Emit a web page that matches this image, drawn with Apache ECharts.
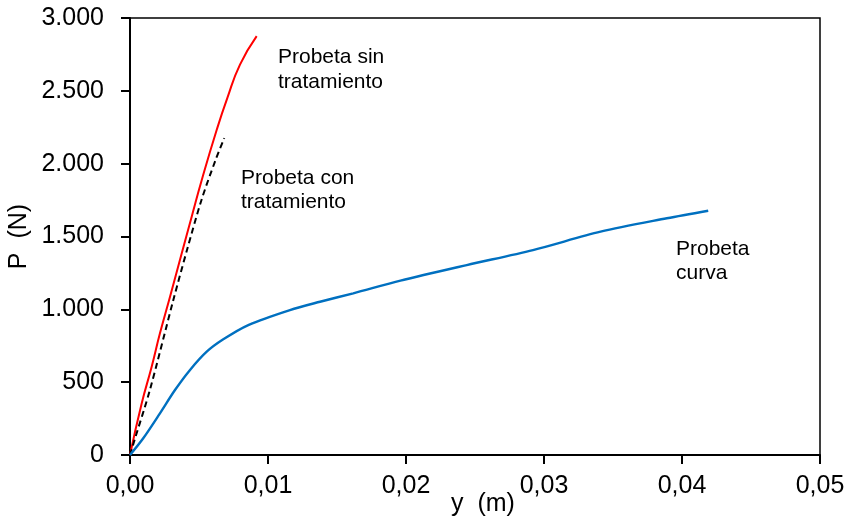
<!DOCTYPE html>
<html>
<head>
<meta charset="utf-8">
<script src="https://cdn.jsdelivr.net/npm/echarts@6/dist/echarts.min.js"></script>
<style>
  html, body { margin: 0; padding: 0; background: #fff; }
  #chart { width: 847px; height: 527px; }
</style>
</head>
<body>
<div id="chart"></div>
<script>
// desplazamiento y (m), carga P (N)
const sinTratamiento = [
  [0, 0], [0.00085, 355], [0.00157, 606], [0.00217, 835], [0.0029, 1087],
  [0.00375, 1385], [0.00447, 1636], [0.0052, 1888], [0.00628, 2231],
  [0.00705, 2450], [0.00797, 2680], [0.00918, 2876]
]
const conTratamiento = [
  [0, 0], [0.00033, 103], [0.00144, 446], [0.00314, 1064], [0.00413, 1407],
  [0.00518, 1751], [0.0062, 2025], [0.00683, 2176]
]
const curva = [
  [0, 0], [0.00096, 115], [0.00217, 286], [0.00326, 446], [0.00435, 584],
  [0.00556, 709], [0.00676, 794], [0.00857, 892], [0.01159, 995],
  [0.01377, 1052], [0.01618, 1110], [0.0196, 1197], [0.0244, 1304],
  [0.0292, 1407], [0.0341, 1533], [0.0389, 1625], [0.0419, 1677]
]
const xTicks = { min: 0, max: 0.05, interval: 0.01 }
const yTicks = { min: 0, max: 3000, interval: 500 }

const font = 'Liberation Sans, Arial, sans-serif'

const chart = echarts.init(document.getElementById('chart'))

const option = {
  animation: false,
  grid: {
    left: 130, right: 27, top: 18, bottom: 72,
    outerBoundsMode: 'none',
    containLabel: false,
    show: true, borderColor: '#000', borderWidth: 1.5
  },
  xAxis: {
    type: 'value',
    min: xTicks.min, max: xTicks.max, interval: xTicks.interval,
    name: 'y  (m)',
    nameLocation: 'middle',
    nameGap: 37,
    nameMoveOverlap: false,
    nameTextStyle: { color: '#000', fontSize: 25, fontFamily: font, padding: [0, 0, 0, 16] },
    axisLine: { lineStyle: { color: '#000', width: 2 } },
    axisTick: { inside: false, length: 9, lineStyle: { color: '#000', width: 2 } },
    axisLabel: {
      color: '#000', fontSize: 25, fontFamily: font, margin: 19,
      formatter: v => v.toFixed(2).replace('.', ',')
    },
    splitLine: { show: false }
  },
  yAxis: {
    type: 'value',
    min: yTicks.min, max: yTicks.max, interval: yTicks.interval,
    name: 'P  (N)',
    nameLocation: 'middle',
    nameGap: 98,
    nameMoveOverlap: false,
    nameRotate: 90,
    nameTextStyle: { color: '#000', fontSize: 25, fontFamily: font },
    axisLine: { show: true, lineStyle: { color: '#000', width: 2 } },
    axisTick: { show: true, inside: false, length: 9, lineStyle: { color: '#000', width: 2 } },
    axisLabel: {
      color: '#000', fontSize: 25, fontFamily: font, margin: 26,
      formatter: v => String(v).replace(/\B(?=(\d{3})+(?!\d))/g, '.')
    },
    splitLine: { show: false }
  },
  series: [
    {
      name: 'Probeta sin tratamiento',
      type: 'line',
      data: sinTratamiento,
      smooth: 0.5,
      showSymbol: false,
      lineStyle: { color: '#ff0000', width: 2 }
    },
    {
      name: 'Probeta con tratamiento',
      type: 'line',
      data: conTratamiento,
      smooth: 0.3,
      showSymbol: false,
      lineStyle: { color: '#000', width: 2, type: [6, 4] }
    },
    {
      name: 'Probeta curva',
      type: 'line',
      data: curva,
      smooth: 0.3,
      showSymbol: false,
      lineStyle: { color: '#0070c0', width: 2.4 }
    }
  ],
  graphic: [
    {
      type: 'text', left: 278, top: 45,
      style: { text: 'Probeta sin\ntratamiento', fontSize: 21, lineHeight: 25, fontFamily: font, fill: '#000' }
    },
    {
      type: 'text', left: 241, top: 166,
      style: { text: 'Probeta con\ntratamiento', fontSize: 21, lineHeight: 24, fontFamily: font, fill: '#000' }
    },
    {
      type: 'text', left: 676, top: 237,
      style: { text: 'Probeta\ncurva', fontSize: 21, lineHeight: 24, fontFamily: font, fill: '#000' }
    }
  ]
}

chart.setOption(option)
</script>
</body>
</html>
